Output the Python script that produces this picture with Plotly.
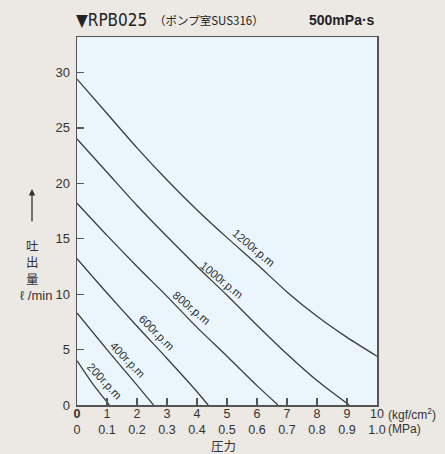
import plotly.graph_objects as go

# ---- data ----
rpm_names = ["200r.p.m", "400r.p.m", "600r.p.m", "800r.p.m", "1000r.p.m", "1200r.p.m"]
c200_x = [0, 0.5, 1.08]
c200_y = [4.0, 2.0, 0]
c400_x = [0, 1, 2, 2.55]
c400_y = [8.3, 5.0, 1.8, 0]
c600_x = [0, 1, 2, 3, 4, 4.37]
c600_y = [13.2, 10.1, 7.1, 4.2, 1.2, 0]
c800_x = [0, 1, 2, 3, 4, 5, 6, 6.7]
c800_y = [18.2, 15.3, 12.5, 9.8, 7.0, 4.4, 1.75, 0]
c1000_x = [0, 1, 2, 3, 4, 5, 6, 7, 8, 9.07]
c1000_y = [24.0, 21.0, 18.0, 15.2, 12.5, 9.9, 7.2, 4.6, 2.2, 0]
c1200_x = [0, 1, 2, 3, 4, 5, 6, 7, 8, 9, 10]
c1200_y = [29.4, 26.3, 23.2, 20.3, 17.6, 15.1, 12.7, 10.2, 8.0, 6.1, 4.4]

label_x = [0.91, 1.69, 2.66, 3.82, 4.82, 5.89]
label_y = [2.15, 4.05, 6.48, 8.74, 11.27, 14.16]
label_angle = [47, 46, 45, 40, 39, 40]

x_ticks = [0, 1, 2, 3, 4, 5, 6, 7, 8, 9, 10]
x_kgf_text = ["<b>0</b>", "1", "2", "3", "4", "5", "6", "7", "8", "9", "10"]
x_mpa_text = ["0", "0.1", "0.2", "0.3", "0.4", "0.5", "0.6", "0.7", "0.8", "0.9", "1.0"]
y_ticks = [0, 5, 10, 15, 20, 25, 30]
y_title_chars = ["吐", "出", "量"]

curves_x = [c200_x, c400_x, c600_x, c800_x, c1000_x, c1200_x]
curves_y = [c200_y, c400_y, c600_y, c800_y, c1000_y, c1200_y]

LINE = "#3c3c3c"
TXT = "#333333"
AX = "#555555"
BG = "#ece8e3"
FONT = "Liberation Sans, Arial, sans-serif"
JP = "Noto Sans CJK JP, sans-serif"
PLOT_BOTTOM = 405  # pixel row of the x axis

fig = go.Figure()
for cx, cy, nm in zip(curves_x, curves_y, rpm_names):
    fig.add_trace(go.Scatter(x=cx, y=cy, mode="lines", name=nm,
                             line=dict(color=LINE, width=1.3, shape="spline", smoothing=0.8),
                             hoverinfo="skip", showlegend=False))

ann = []
for t, lx, ly, la in zip(rpm_names, label_x, label_y, label_angle):
    ann.append(dict(x=lx, y=ly, xref="x", yref="y", text=t, textangle=la,
                    showarrow=False, font=dict(family=FONT, size=11.5, color=TXT)))

# title pieces
ann.append(dict(x=0, y=1.0, xref="paper", yref="paper", xanchor="left", yanchor="bottom",
                yshift=5, xshift=-3, text="▼RPB025", showarrow=False,
                font=dict(family="Liberation Sans Narrow, DejaVu Sans Condensed, sans-serif",
                          size=17, color="#222222")))
ann.append(dict(x=0.25, y=1.0, xref="paper", yref="paper", xanchor="left", yanchor="bottom",
                yshift=7, text="（ポンプ室SUS316）", showarrow=False,
                font=dict(family=JP, size=11.5, color="#222222")))
ann.append(dict(x=1.0, y=1.0, xref="paper", yref="paper", xanchor="right", yanchor="bottom",
                yshift=7, text="<b>500mPa·s</b>", showarrow=False,
                font=dict(family=FONT, size=14, color="#222222")))

# x unit labels
ann.append(dict(x=1.0, y=0, xref="paper", yref="paper", xanchor="left", yanchor="middle",
                xshift=9, yshift=-9, text="(kgf/cm<sup>2</sup>)", showarrow=False,
                font=dict(family=FONT, size=12, color=TXT)))
ann.append(dict(x=1.0, y=0, xref="paper", yref="paper", xanchor="left", yanchor="middle",
                xshift=9, yshift=-24, text="(MPa)", showarrow=False,
                font=dict(family=FONT, size=12, color=TXT)))
# x title
ann.append(dict(x=0.5, y=0, xref="paper", yref="paper", xanchor="center", yanchor="middle",
                xshift=-4, yshift=-40, text="圧力", showarrow=False, borderpad=0,
                font=dict(family=JP, size=12.5, color=TXT)))

# y title: arrow + stacked characters
ann.append(dict(x=0, y=0, xref="paper", yref="paper", ax=0, ay=34, axref="pixel", ayref="pixel",
                xshift=-45, yshift=PLOT_BOTTOM - 189, text="", showarrow=True, arrowhead=2,
                arrowsize=1, arrowwidth=1.3, arrowcolor="#333333"))
ann.append(dict(x=0, y=0, xref="paper", yref="paper", xanchor="center", yanchor="middle",
                xshift=-45, yshift=PLOT_BOTTOM - 262, text="<br>".join(y_title_chars),
                showarrow=False, borderpad=0,
                font=dict(family=JP, size=12.5, color=TXT)))
ann.append(dict(x=0, y=10, xref="paper", yref="y", xanchor="right", yanchor="middle",
                xshift=-24, yshift=-1, text="ℓ /min", showarrow=False, borderpad=0,
                font=dict(family=FONT, size=13, color=TXT)))

fig.update_layout(
    width=445, height=454,
    margin=dict(l=77, r=68, t=37, b=454 - PLOT_BOTTOM, autoexpand=False),
    paper_bgcolor=BG,
    plot_bgcolor="#eaf6fc",
    annotations=ann,
    xaxis=dict(range=[0, 10], tickvals=x_ticks, automargin=False,
               ticktext=[a + "<br>" + b for a, b in zip(x_kgf_text, x_mpa_text)],
               ticks="inside", ticklen=7, tickwidth=1.3, tickcolor=AX,
               showline=True, linecolor=AX, linewidth=1.5, mirror=True,
               showgrid=False, zeroline=False, ticklabelstandoff=-4,
               tickfont=dict(family=FONT, size=12.5, color=TXT)),
    yaxis=dict(range=[0, 33.2], tickvals=y_ticks, automargin=False,
               ticks="inside", ticklen=7, tickwidth=1.3, tickcolor=AX,
               showline=True, linecolor=AX, linewidth=1.5, mirror=True,
               showgrid=False, zeroline=False, ticklabelstandoff=3,
               tickfont=dict(family=FONT, size=13, color=TXT)),
)

fig.write_html("out.html",
               config={"displayModeBar": False, "staticPlot": True},
               post_script="document.body.style.margin='0';"
                           "document.body.style.background='%s';" % BG)
